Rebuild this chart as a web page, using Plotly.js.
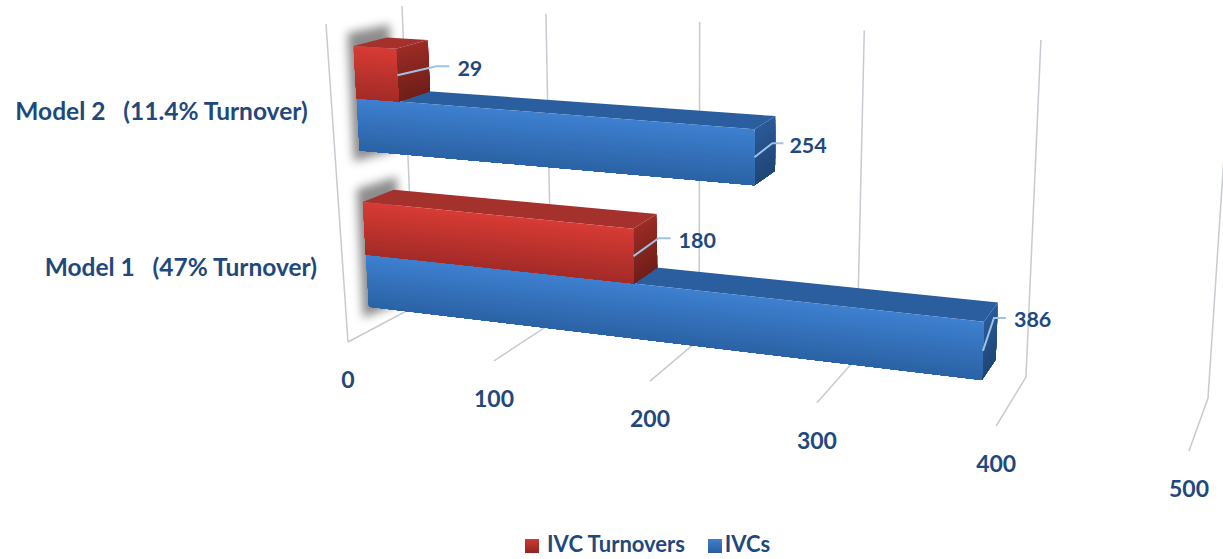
<!DOCTYPE html>
<html>
<head>
<meta charset="utf-8">
<script src="https://cdn.plot.ly/plotly-3.0.1.min.js"></script>
<style>html,body{margin:0;padding:0;background:#fff}#chart{width:1223px;height:559px}</style>
</head>
<body>
<div id="chart"></div>
<script>
// ---- data ----
var categories = ['Model\u00a01\u00a0\u00a0\u00a0(47%\u00a0Turnover)', 'Model\u00a02\u00a0\u00a0\u00a0(11.4%\u00a0Turnover)'];
var ivcTurnovers = [180, 29];
var ivcs = [386, 254];
var tickValues = [0, 100, 200, 300, 400, 500];
var seriesNames = ['\u00a0IVC Turnovers', 'IVCs'];

// ---- view of the 3D box: value axis 0..500, depth 0..1, height 0..1 ----
var MAXV = 500, PERSP = 1.19;
var C = { // screen corners [t][d][h]
  '000': [348, 342], '100': [1189, 451], '010': [414, 307], '110': [1208, 398],
  '001': [326, 24],  '101': [1213, 83],  '011': [402, 6],   '111': [1231, 50]
};
function L(a, b, f) { return a + (b - a) * f; }
function P(v, d, h) {
  var u = v / MAXV, t = u / (u + PERSP * (1 - u));
  var out = [0, 0];
  for (var i = 0; i < 2; i++) {
    var f0 = L(L(C['000'][i], C['100'][i], t), L(C['010'][i], C['110'][i], t), d);
    var f1 = L(L(C['001'][i], C['101'][i], t), L(C['011'][i], C['111'][i], t), d);
    out[i] = L(f0, f1, h);
  }
  return out;
}
var D0 = 0.34, D1 = 0.78, GAP = 0.075, BAR = 0.1675;
var traces = [];
var INK = '#1F497D';
var FONT = 'Lato, "Open Sans", sans-serif';

function hex(c) { return [parseInt(c.substr(1,2),16), parseInt(c.substr(3,2),16), parseInt(c.substr(5,2),16)]; }
function mix(a, b, f) {
  var x = hex(a), y = hex(b);
  return 'rgb(' + [0,1,2].map(function(i){ return Math.round(x[i] + (y[i]-x[i])*f); }).join(',') + ')';
}
function poly(pts, color) {
  var xs = pts.map(function(p){return p[0];}), ys = pts.map(function(p){return p[1];});
  xs.push(xs[0]); ys.push(ys[0]);
  traces.push({type:'scatter', mode:'lines', x:xs, y:ys, fill:'toself', fillcolor:color,
    line:{color:'rgba(0,0,0,0)', width:0}, showlegend:false, hoverinfo:'skip'});
}
function line(pts, color, width) {
  traces.push({type:'scatter', mode:'lines', x:pts.map(function(p){return p[0];}), y:pts.map(function(p){return p[1];}),
    line:{color:color, width:width}, showlegend:false, hoverinfo:'skip'});
}
function text(p, s, size, pos) {
  traces.push({type:'scatter', mode:'text', x:[p[0]], y:[p[1]], text:[s], textposition:pos, cliponaxis:false,
    textfont:{family:FONT, size:size, color:INK, weight:700}, showlegend:false, hoverinfo:'skip'});
}
// gridlines on floor and wall
var GRID = '#C6CBD1';
tickValues.forEach(function(v){
  line([P(v,0,0), P(v,1,0), P(v,1,1)], GRID, 1.5);
});
line([P(0,0,1), P(0,0,0)], GRID, 1.5);

// soft shadow behind each bar stack (blurred after drawing)
var shadowTraces = [];
categories.forEach(function(c, i){
  var b = i*0.5 + GAP, tp = b + 2*BAR;
  var a1 = P(0,D0,tp), a2 = P(0,D1,tp), a3 = P(0,D1,b), a4 = P(0,D0,b);
  shadowTraces.push(traces.length);
  poly([[a1[0]-6,a1[1]-13],[a2[0]+3,a2[1]-13],[a3[0]+3,a3[1]+11],[a4[0]-6,a4[1]+11]], 'rgba(70,70,70,0.62)');
});

// bar box with graded faces; each band runs to the bottom and the next paints over it, so no seams
function grade(corner, h0, h1, cTop, cBot, n) {
  for (var k = 0; k < n; k++) {
    var a = h1 - (h1-h0)*k/n;
    poly([corner(0,a), corner(1,a), corner(1,h0), corner(0,h0)], mix(cTop, cBot, (k+0.5)/n));
  }
}
function box(v, h0, h1, s) {
  poly([P(0,D0,h1), P(v,D0,h1), P(v,D1,h1), P(0,D1,h1)], s.top);
  grade(function(e,h){ return P(v, e?D1:D0, h); }, h0, h1, s.sideTop, s.sideBot, 16);
  grade(function(e,h){ return P(e?v:0, D0, h); }, h0, h1, s.frontTop, s.frontBot, 24);
}
var BLUE = {top:'#2B5E9F', sideTop:'#2A5A99', sideBot:'#1F4675', frontTop:'#3E80D0', frontBot:'#2B62A5'};
var RED  = {top:'#A5312C', sideTop:'#9C2B25', sideBot:'#6F1F19', frontTop:'#D83B35', frontBot:'#A32B27'};

// back bar first
[1, 0].forEach(function(i){
  var b = i*0.5 + GAP;
  box(ivcs[i], b, b+BAR, BLUE);
  box(ivcTurnovers[i], b+BAR, b+2*BAR, RED);
});

// leader lines and value labels
var LEAD = '#9DC3E6';
var leaderOffsets = {
  turn: [[25,-18,37,45],[39,-9,52,60]],
  ivc:  [[11,-33,23,31],[18,-14,29,35]]
};
categories.forEach(function(c, i){
  var b = i*0.5 + GAP;
  [[ivcs[i], b+BAR/2, leaderOffsets.ivc[i]], [ivcTurnovers[i], b+1.5*BAR, leaderOffsets.turn[i]]].forEach(function(e){
    var s = P(e[0], D0, e[1]), o = e[2];
    line([s, [s[0]+o[0], s[1]+o[1]], [s[0]+o[2], s[1]+o[1]]], LEAD, 2);
    text([s[0]+o[3], s[1]+o[1]+4], String(e[0]), 21.5, 'middle right');
  });
});

// tick labels
tickValues.forEach(function(v){
  var p = P(v,0,0);
  text([p[0], p[1]+40], String(v), 23, 'middle center');
});
// category labels
categories.forEach(function(c, i){
  var p = P(0, D0, i*0.5 + GAP + BAR);
  text([p[0]-49, p[1]+15.5], c, 24.5, 'middle left');
});

// legend entries
[[seriesNames[0], '#CF3A34', '#8F2420', 532], [seriesNames[1], '#3E80D0', '#2A5E9E', 715]].forEach(function(e){
  traces.push({type:'scatter', mode:'markers+text', x:[e[3]], y:[546], name:e[0], text:[e[0]],
    textposition:'middle right', cliponaxis:false,
    textfont:{family:FONT, size:22, color:INK, weight:700},
    marker:{symbol:'square', size:14, color:e[1], gradient:{type:'vertical', color:e[2]}},
    showlegend:false, hoverinfo:'skip'});
});

var layout = {
  width:1223, height:559,
  margin:{l:0,r:0,t:0,b:0,pad:0},
  paper_bgcolor:'#fff', plot_bgcolor:'#fff',
  xaxis:{range:[0,1223], visible:false, fixedrange:true},
  yaxis:{range:[559,0], visible:false, fixedrange:true},
  showlegend:false
};
Plotly.newPlot('chart', traces, layout, {displayModeBar:false, staticPlot:true}).then(function(){
  var groups = document.querySelectorAll('.scatterlayer .trace');
  shadowTraces.forEach(function(i){ groups[i].style.filter = 'blur(5px)'; });
});
</script>
</body>
</html>
